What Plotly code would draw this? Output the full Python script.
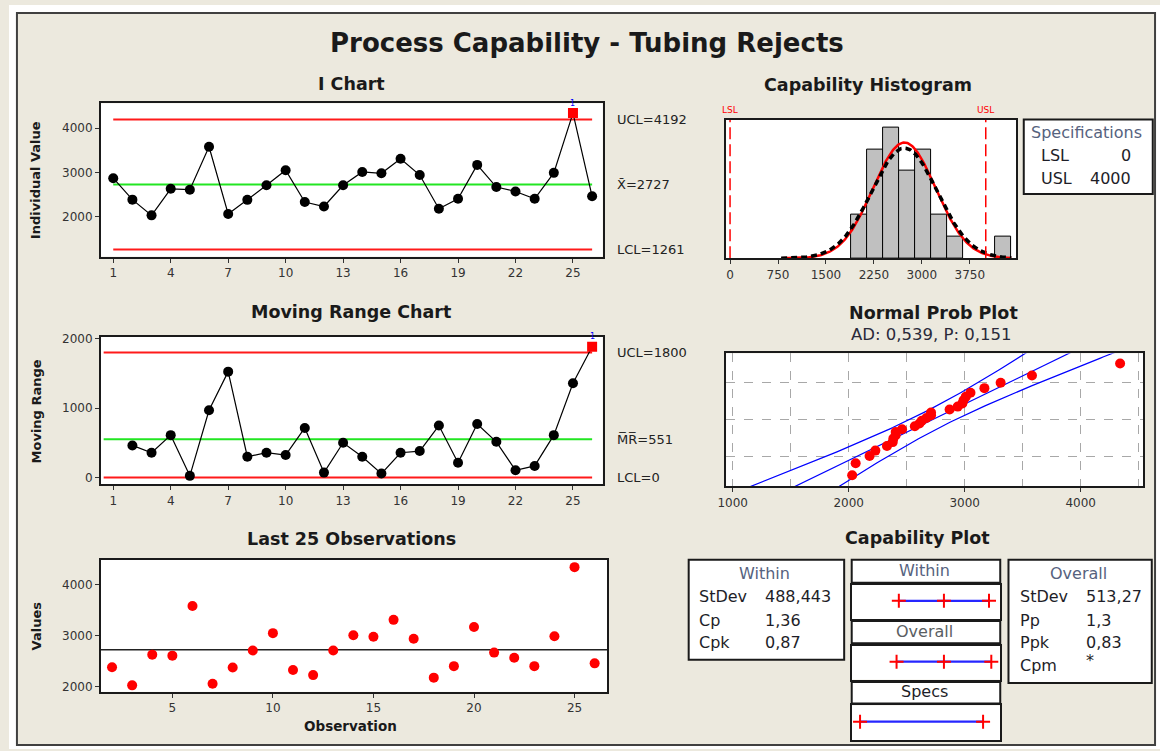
import math
import numpy as np
import plotly.graph_objects as go
from statistics import NormalDist

W, H = 1160, 751
FONT = "DejaVu Sans"

# ---------------- data ----------------
obs = list(range(1, 27))
individual = [2870, 2385, 2030, 2630, 2610, 3580, 2060, 2380, 2710, 3050, 2330, 2230, 2710,
              3010, 2980, 3310, 2940, 2180, 2405, 3170, 2670, 2570, 2405, 2990, 4340, 2460]
mr_obs = list(range(2, 27))
moving_range = [462, 357, 610, 24, 967, 1524, 300, 357, 324, 714, 71, 500, 300, 57, 357,
                381, 748, 214, 771, 514, 105, 167, 610, 1357, 1881]
i_ucl, i_mean, i_lcl = 4192, 2727, 1261
mr_ucl, mr_mean, mr_lcl = 1800, 551, 0
last_obs = obs[1:]
last_vals = individual[1:]
lsl, usl = 0, 4000
sd_within, sd_overall = 488.443, 513.27
within_marks = [1261, 2727, 4192]
overall_marks = [1187, 2727, 4267]
spec_marks = [0, 4000]
i_ticks = [1, 4, 7, 10, 13, 16, 19, 22, 25]
hist_ticks = [0, 750, 1500, 2250, 3000, 3750]
hist_bin_start, hist_bin_size = 1890, 250
within_stats = [("StDev", "488,443"), ("Cp", "1,36"), ("Cpk", "0,87")]
overall_stats = [("StDev", "513,27"), ("Pp", "1,3"), ("Ppk", "0,83"), ("Cpm", "*")]
ad_text = "AD: 0,539, P: 0,151"

# ---------------- helpers ----------------
def dx(a, b):
    return [a / W, b / W]

def dy(top, bottom):
    return [1 - bottom / H, 1 - top / H]

def ann(text, x, y, size, color="#1a1a1a", xanchor="center", angle=0, bold=False):
    return dict(text=("<b>%s</b>" % text) if bold else text, x=x / W, y=1 - y / H,
                xref="paper", yref="paper", showarrow=False, xanchor=xanchor,
                yanchor="middle", textangle=angle,
                font=dict(family=FONT, size=size, color=color))

def rect(x0, y0, x1, y1, fill="white", line="#1a1a1a", lw=2, layer="above"):
    return dict(type="rect", xref="paper", yref="paper", x0=x0 / W, x1=x1 / W,
                y0=1 - y1 / H, y1=1 - y0 / H, fillcolor=fill,
                line=dict(color=line, width=lw), layer=layer)

RED = "#ff1a1a"
GREEN = "#22e622"
BORDER = "#1a1a1a"
TICKC = "#333333"

fig = go.Figure()

# ---------------- I chart ----------------
i_colors = ["black"] * len(individual)
i_symbols = ["circle"] * len(individual)
i_colors[24] = "red"
i_symbols[24] = "square"
for val, col in [(i_ucl, RED), (i_lcl, RED), (i_mean, GREEN)]:
    fig.add_trace(go.Scatter(x=[obs[0], obs[-1]], y=[val, val], mode="lines",
                             line=dict(color=col, width=2), xaxis="x", yaxis="y"))
fig.add_trace(go.Scatter(x=obs, y=individual, mode="lines+markers",
                         line=dict(color="black", width=1.2),
                         marker=dict(color=i_colors, symbol=i_symbols, size=10),
                         xaxis="x", yaxis="y"))

# ---------------- Moving range chart ----------------
mr_colors = ["black"] * len(moving_range)
mr_symbols = ["circle"] * len(moving_range)
mr_colors[-1] = "red"
mr_symbols[-1] = "square"
for val, col in [(mr_ucl, RED), (mr_lcl, RED), (mr_mean, GREEN)]:
    fig.add_trace(go.Scatter(x=[0.5, obs[-1]], y=[val, val], mode="lines",
                             line=dict(color=col, width=2), xaxis="x2", yaxis="y2"))
fig.add_trace(go.Scatter(x=mr_obs, y=moving_range, mode="lines+markers",
                         line=dict(color="black", width=1.2),
                         marker=dict(color=mr_colors, symbol=mr_symbols, size=10),
                         xaxis="x2", yaxis="y2"))

# ---------------- Last 25 observations ----------------
fig.add_trace(go.Scatter(x=[1.45, 26.63], y=[i_mean, i_mean], mode="lines",
                         line=dict(color="#222222", width=1.5), xaxis="x3", yaxis="y3"))
fig.add_trace(go.Scatter(x=last_obs, y=last_vals, mode="markers",
                         marker=dict(color="red", size=10), xaxis="x3", yaxis="y3"))

# ---------------- Capability histogram ----------------
n = len(individual)
fig.add_trace(go.Histogram(x=individual,
                           xbins=dict(start=hist_bin_start, end=4400, size=hist_bin_size),
                           marker=dict(color="#c0c0c0", line=dict(color="black", width=1)),
                           xaxis="x4", yaxis="y4"))
xc = np.linspace(800, 4400, 300)
def curve(sd):
    return n * hist_bin_size * np.exp(-0.5 * ((xc - i_mean) / sd) ** 2) / (sd * math.sqrt(2 * math.pi))
fig.add_trace(go.Scatter(x=xc, y=curve(sd_within), mode="lines",
                         line=dict(color="red", width=2.5), xaxis="x4", yaxis="y4"))
fig.add_trace(go.Scatter(x=xc, y=curve(sd_overall), mode="lines",
                         line=dict(color="black", width=3.5, dash="6px,4px"), xaxis="x4", yaxis="y4"))
for s in (lsl, usl):
    fig.add_trace(go.Scatter(x=[s, s], y=[0, 6.36], mode="lines",
                             line=dict(color="red", width=1.5, dash="12px,5px"),
                             xaxis="x4", yaxis="y4"))

# ---------------- Normal probability plot ----------------
sorted_vals = sorted(individual)
nd = NormalDist()
zpos = [nd.inv_cdf((i - 0.3) / (n + 0.4)) for i in range(1, n + 1)]
zs = np.linspace(-2.6, 2.6, 120)
center = i_mean + zs * sd_overall
se = sd_overall * np.sqrt(1.0 / n + zs ** 2 / (2.0 * n))
for xs in (center - 1.96 * se, center, center + 1.96 * se):
    fig.add_trace(go.Scatter(x=xs, y=zs, mode="lines", line=dict(color="#0000ff", width=1.2),
                             xaxis="x5", yaxis="y5"))
fig.add_trace(go.Scatter(x=sorted_vals, y=zpos, mode="markers",
                         marker=dict(color="red", size=10), xaxis="x5", yaxis="y5"))

# ---------------- Capability plot lines ----------------
for k, marks in zip((6, 7, 8), (within_marks, overall_marks, spec_marks)):
    fig.add_trace(go.Scatter(x=[marks[0], marks[-1]], y=[0.53, 0.53], mode="lines",
                             line=dict(color="#2626ff", width=2.2),
                             xaxis="x%d" % k, yaxis="y%d" % k))
    fig.add_trace(go.Scatter(x=marks, y=[0.53] * len(marks), mode="markers",
                             marker=dict(symbol="cross-thin", size=10,
                                         line=dict(color="red", width=2)),
                             xaxis="x%d" % k, yaxis="y%d" % k))

# ---------------- axes ----------------
def frame_axis(**kw):
    d = dict(showline=True, mirror=True, linecolor=BORDER, linewidth=2, zeroline=False,
             showgrid=False, ticks="outside", ticklen=4, tickwidth=1, tickcolor=TICKC,
             tickfont=dict(family=FONT, size=12, color=TICKC), fixedrange=True)
    d.update(kw)
    return d

layout_axes = dict(
    xaxis=frame_axis(domain=dx(92.7, 598.3), range=[0.36, 26.55], tickvals=i_ticks, anchor="y"),
    yaxis=frame_axis(domain=dy(99.3, 254), range=[1098, 4559], tickvals=[2000, 3000, 4000], anchor="x"),
    xaxis2=frame_axis(domain=dx(92.7, 598.3), range=[0.36, 26.55], tickvals=i_ticks, anchor="y2"),
    yaxis2=frame_axis(domain=dy(335, 484), range=[-100, 2024], tickvals=[0, 1000, 2000], anchor="x2"),
    xaxis3=frame_axis(domain=dx(92.7, 603), range=[1.45, 26.63], tickvals=[5, 10, 15, 20, 25], anchor="y3"),
    yaxis3=frame_axis(domain=dy(560, 693.3), range=[1903, 4484], tickvals=[2000, 3000, 4000], anchor="x3"),
    xaxis4=frame_axis(domain=dx(722.7, 1015), range=[-62, 4475], tickvals=hist_ticks, anchor="y4"),
    yaxis4=frame_axis(domain=dy(115.7, 255.7), range=[0, 6.36], ticks="", showticklabels=False, anchor="x4"),
    xaxis5=frame_axis(domain=dx(722.7, 1143.3), range=[943, 4541], tick0=0, dtick=1000,
                      showgrid=True, gridcolor="#a8a8a8", gridwidth=1, griddash="dash",
                      minor=dict(dtick=500, tick0=0, showgrid=True, gridcolor="#a8a8a8",
                                 gridwidth=1, griddash="dash", ticks=""),
                      anchor="y5"),
    yaxis5=frame_axis(domain=dy(351.7, 485.7), range=[-2.31, 2.28], tickvals=[-1.2816, 0, 1.2816],
                      ticks="", showticklabels=False, showgrid=True, gridcolor="#a8a8a8",
                      gridwidth=1, griddash="dash", anchor="x5"),
)
cap_boxes = {6: (585, 620), 7: (646.7, 681), 8: (707, 742)}
for k, (t, b) in cap_boxes.items():
    layout_axes["xaxis%d" % k] = frame_axis(domain=dx(849.3, 999), range=[-271, 4558], ticks="",
                                           showticklabels=False, anchor="y%d" % k)
    layout_axes["yaxis%d" % k] = frame_axis(domain=dy(t, b), range=[0, 1], ticks="",
                                           showticklabels=False, anchor="x%d" % k)

# ---------------- shapes ----------------
BEIGE = "#ece9de"
shapes = [
    rect(0, 0, W, 8, fill="white", line="white", lw=0),
    rect(0, 747, W, H, fill="white", line="white", lw=0),
    rect(0, 0, 8, H, fill="white", line="white", lw=0),
    rect(1155, 0, W, H, fill="white", line="white", lw=0),
    rect(8, 8, 1155, 747, fill="rgba(0,0,0,0)", line="#404040", lw=2),
    rect(1022.7, 115.7, 1152.7, 190.7),
    rect(685, 560, 841.7, 661),
    rect(1007.3, 560, 1151.7, 684.3),
    rect(849.3, 560, 999, 583.3),
    rect(849.3, 621.7, 999, 644.3),
    rect(849.3, 683.3, 999, 705),
]

# ---------------- annotations ----------------
HDR = "#56627e"
TXT = "#1e1e28"
anns = [
    ann("Process Capability - Tubing Rejects", 583, 38, 26, bold=True),
    ann("I Chart", 345, 80, 17.5, bold=True),
    ann("Moving Range Chart", 345, 310, 17.5, bold=True),
    ann("Last 25 Observations", 345.5, 539, 17.5, bold=True),
    ann("Capability Histogram", 866, 80.5, 17.5, bold=True),
    ann("Normal Prob Plot", 931.7, 310.5, 17.5, bold=True),
    ann(ad_text, 930, 332.5, 16.5, color="#2a2a3a"),
    ann("Capability Plot", 916, 538.5, 17.5, bold=True),
    ann("Individual Value", 27, 177, 13, bold=True, angle=-90),
    ann("Moving Range", 27.5, 410, 13, bold=True, angle=-90),
    ann("Values", 27.5, 627, 13, bold=True, angle=-90),
    ann("Observation", 344, 728, 13.5, bold=True),
    ann("Specifications", 1086, 129, 16, color=HDR),
    ann("LSL", 1038, 152, 16, color=TXT, xanchor="left"),
    ann(str(lsl), 1133, 152, 16, color=TXT, xanchor="right"),
    ann("USL", 1038, 175.5, 16, color=TXT, xanchor="left"),
    ann(str(usl), 1133, 175.5, 16, color=TXT, xanchor="right"),
    ann("Within", 761.7, 574, 16, color=HDR),
    ann("Overall", 1078, 574, 16, color=HDR),
    ann("Within", 922.7, 571, 16, color=HDR),
    ann("Overall", 922.7, 632.3, 16, color="#5a5e62"),
    ann("Specs", 922.7, 693.3, 16, color=TXT),
]
for j, (lab, val) in enumerate(within_stats):
    yy = [596.7, 621.7, 643.3][j]
    anns.append(ann(lab, 693.3, yy, 16, color=TXT, xanchor="left"))
    anns.append(ann(val, 760, yy, 16, color=TXT, xanchor="left"))
for j, (lab, val) in enumerate(overall_stats):
    yy = [596.7, 621.7, 643.3, 666.7][j]
    anns.append(ann(lab, 1017.3, yy, 16, color=TXT, xanchor="left"))
    anns.append(ann(val, 1083.3, yy - (5 if val == "*" else 0), 16, color=TXT, xanchor="left"))

# limit labels on the right of the control charts (positioned by the y scales)
for txt, val, ya in [("UCL=%d" % i_ucl, i_ucl, "y"), ("X\u0304=%d" % i_mean, i_mean, "y"),
                     ("LCL=%d" % i_lcl, i_lcl, "y"), ("UCL=%d" % mr_ucl, mr_ucl, "y2"),
                     ("M\u0305R\u0305=%d" % mr_mean, mr_mean, "y2"), ("LCL=%d" % mr_lcl, mr_lcl, "y2")]:
    anns.append(dict(text=txt, x=611 / W, xref="paper", y=val, yref=ya, showarrow=False,
                     xanchor="left", yanchor="middle",
                     font=dict(family=FONT, size=13, color="#222222")))
# failed-test flags
anns.append(dict(text="1", x=obs[24], y=individual[24], xref="x", yref="y", yshift=10,
                 showarrow=False, font=dict(family=FONT, size=8, color="blue")))
anns.append(dict(text="1", x=mr_obs[-1], y=moving_range[-1], xref="x2", yref="y2", yshift=10,
                 showarrow=False, font=dict(family=FONT, size=8, color="blue")))
# spec labels over histogram
for txt, val in [("LSL", lsl), ("USL", usl)]:
    anns.append(dict(text=txt, x=val, xref="x4", y=1 - 106 / H, yref="paper", showarrow=False,
                     xanchor="center", yanchor="middle",
                     font=dict(family=FONT, size=9, color="red")))

fig.update_layout(
    width=W, height=H, autosize=False, margin=dict(l=0, r=0, t=0, b=0),
    paper_bgcolor=BEIGE, plot_bgcolor="white", showlegend=False, bargap=0,
    shapes=shapes, annotations=anns, **layout_axes,
)

pin_js = ("document.body.style.margin='0';document.body.style.padding='0';"
          "document.body.style.overflow='hidden';"
          "var gd=document.getElementById('{plot_id}');"
          "gd.style.position='absolute';gd.style.left='0px';gd.style.top='0px';")
fig.write_html("out.html", post_script=pin_js, config={"displayModeBar": False})
